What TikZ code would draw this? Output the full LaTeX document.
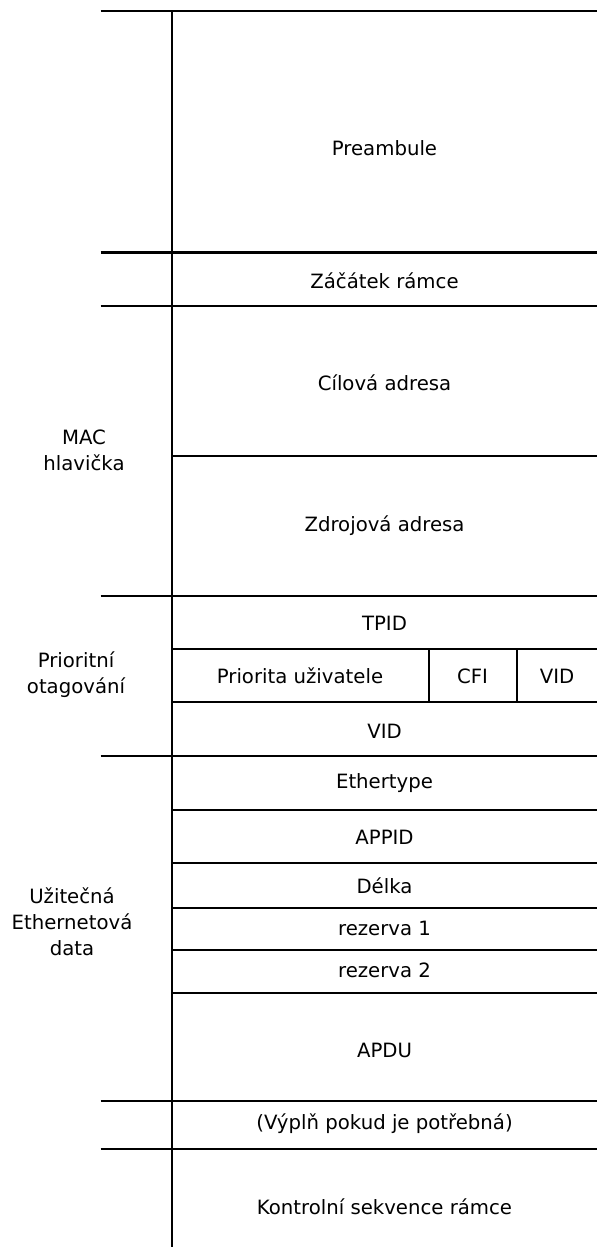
\documentclass[tikz,border=0pt]{standalone}
\usepackage{fontspec}
\setmainfont{DejaVu Sans}
\begin{document}
\begin{tikzpicture}[x=1pt,y=-1pt,
  rule/.style={line width=2pt,black},
  field/.style={font=\fontsize{19.7}{26}\selectfont,inner sep=0pt,anchor=center},
  group/.style={font=\fontsize{19.7}{26}\selectfont,inner sep=0pt,align=center,anchor=center}]
\useasboundingbox (0,0) rectangle (597,1249);
% column divider
\draw[rule] (172,11.5) -- (172,1247);
% boundaries spanning label column and field column
\foreach \y in {11.5,252.5,306,595.5,756,1100.5,1148.5}
  \draw[rule] (100.5,\y) -- (597,\y);
% boundaries within the field column
\foreach \y in {456,649,702,810,863,908,950,993}
  \draw[rule] (172,\y) -- (597,\y);
% split of the tag control field
\draw[rule] (428.5,649) -- (428.5,702);
\draw[rule] (517,649) -- (517,702);
% field names
\node[field] (pre)  at (384.5,148)  {Preambule};
\node[field] (sfd)  at (384.5,281)  {Záčátek rámce};
\node[field] (dst)  at (384.5,383)  {Cílová adresa};
\node[field] (src)  at (384.5,526)  {Zdrojová adresa};
\node[field] (tpid) at (384.5,623)  {TPID};
\node[field] (pcp)  at (300,676)    {Priorita uživatele};
\node[field] (cfi)  at (472.5,676)  {CFI};
\node[field] (vid1) at (557,676)    {VID};
\node[field] (vid2) at (384.5,731)  {VID};
\node[field] (eth)  at (384.5,783)  {Ethertype};
\node[field] (app)  at (384.5,837)  {APPID};
\node[field] (len)  at (384.5,886)  {Délka};
\node[field] (res1) at (384.5,928)  {rezerva 1};
\node[field] (res2) at (384.5,970)  {rezerva 2};
\node[field] (apdu) at (384.5,1050) {APDU};
\node[field] (pad)  at (384.5,1124) {(Výplň pokud je potřebná)};
\node[field] (fcs)  at (384.5,1207) {Kontrolní sekvence rámce};
% group labels
\node[group] (mac)  at (84,450)  {MAC\\hlavička};
\node[group] (tag)  at (76,675)  {Prioritní\\otagování};
\node[group] (data) at (72,922)  {Užitečná\\Ethernetová\\data};
\end{tikzpicture}
\end{document}
